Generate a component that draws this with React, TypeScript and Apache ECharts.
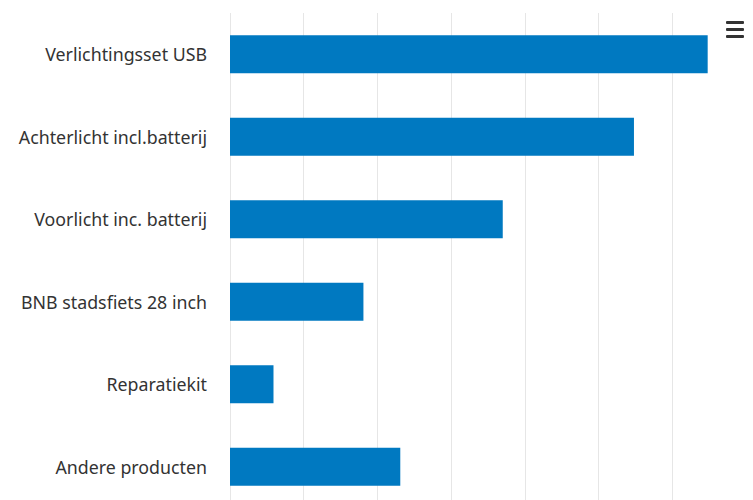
import React, { useEffect, useRef } from "react";
import * as echarts from "echarts";

const categories = [
  "Verlichtingsset USB",
  "Achterlicht incl.batterij",
  "Voorlicht inc. batterij",
  "BNB stadsfiets 28 inch",
  "Reparatiekit",
  "Andere producten",
];
const values = [32.4, 27.4, 18.5, 9.05, 2.95, 11.55];

export default function App() {
  const ref = useRef<HTMLDivElement>(null);
  useEffect(() => {
    if (!ref.current) return;
    const chart = echarts.init(ref.current, undefined, { renderer: "svg" });
    chart.setOption({
      animation: false,
      grid: { left: 230, right: 35, top: 13, bottom: 2, containLabel: false },
      xAxis: {
        type: "value",
        min: 0,
        max: 33.1,
        interval: 5,
        axisLabel: { show: false },
        axisLine: { show: false },
        axisTick: { show: false },
        splitLine: {
          show: true,
          showMaxLine: false,
          lineStyle: { color: "#e6e6e6", width: 1 },
        },
      },
      yAxis: {
        type: "category",
        data: categories,
        inverse: true,
        axisLine: { show: false },
        axisTick: { show: false },
        axisLabel: {
          margin: 23,
          color: "#333333",
          fontSize: 17.8,
          fontFamily: "Noto Sans",
        },
      },
      series: [
        {
          type: "bar",
          data: values,
          barWidth: 38,
          itemStyle: { color: "#0079c1" },
        },
      ],
      graphic: [
        { type: "rect", shape: { x: 726, y: 21, width: 18, height: 3, r: 1 }, style: { fill: "#333" } },
        { type: "rect", shape: { x: 726, y: 28, width: 18, height: 3, r: 1 }, style: { fill: "#333" } },
        { type: "rect", shape: { x: 726, y: 35, width: 18, height: 3, r: 1 }, style: { fill: "#333" } },
      ],
    });
    return () => chart.dispose();
  }, []);
  return (
    <div
      ref={ref}
      style={{ position: "fixed", left: 0, top: 0, width: 753, height: 510, background: "#fff" }}
    />
  );
}
